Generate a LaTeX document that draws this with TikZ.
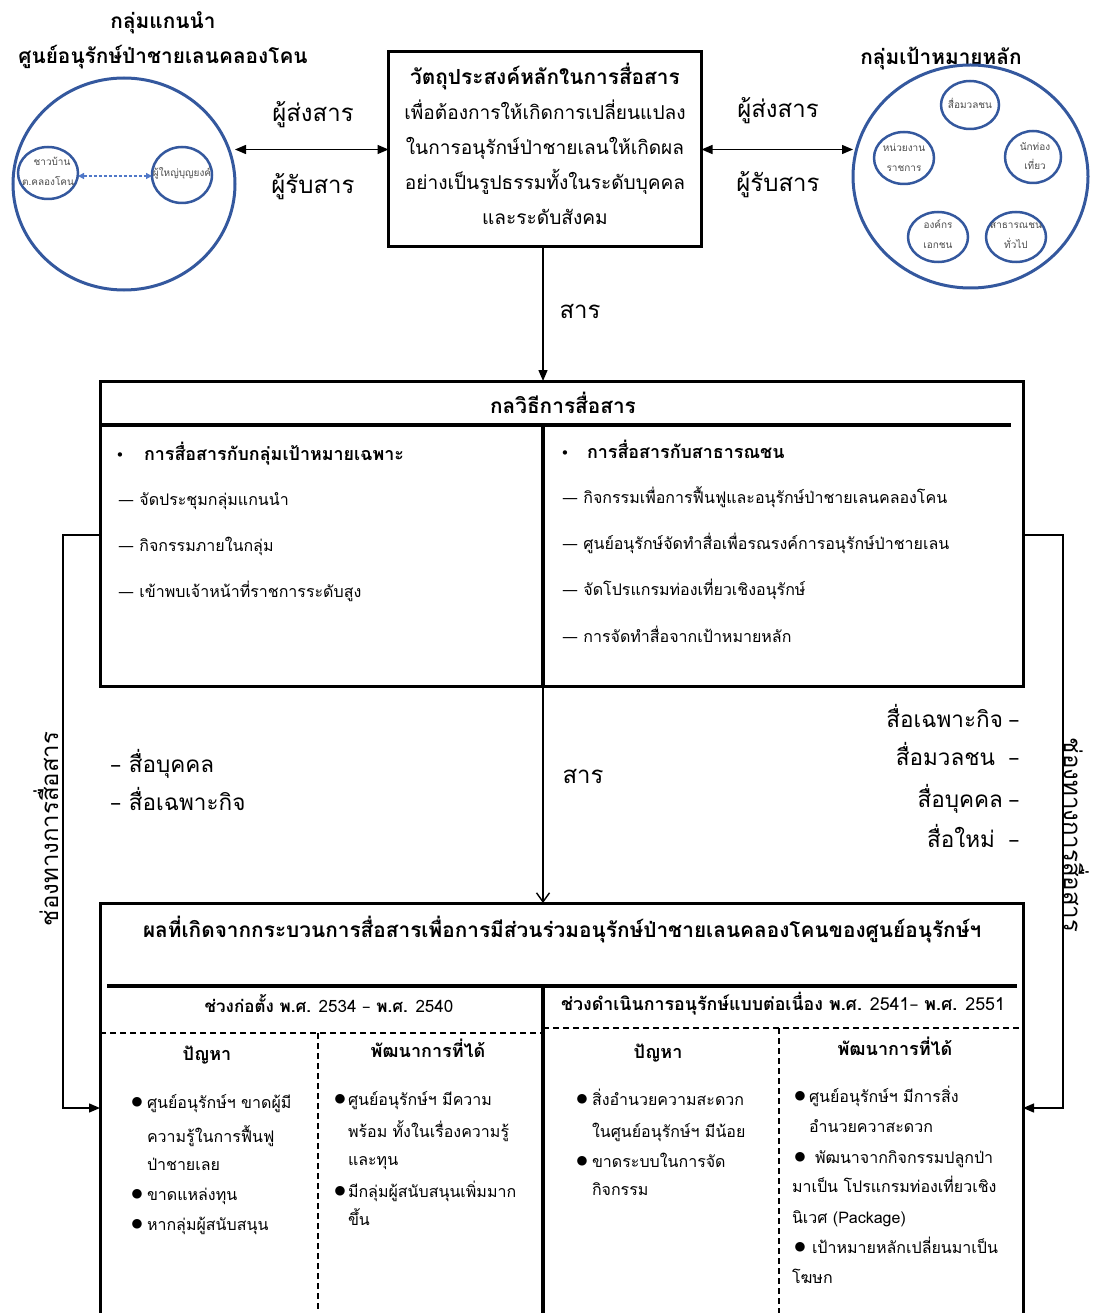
\documentclass[tikz,border=0pt]{standalone}
\usepackage{fontspec}
\setmainfont[Script=Thai]{Loma}
\newfontfamily\dv{DejaVu Sans}
\usetikzlibrary{arrows.meta,shapes.geometric}
\definecolor{circblue}{RGB}{52,88,158}
\definecolor{dotblue}{RGB}{80,120,200}
\tikzset{
  every node/.style={inner sep=0pt, outer sep=0pt},
  body/.style={font=\fontsize{16}{19}\selectfont},
  obody/.style={font=\fontsize{19.1}{22}\selectfont},
  ttl/.style={font=\fontsize{20.8}{24}\selectfont\bfseries},
  hdr/.style={font=\fontsize{18}{21}\selectfont\bfseries},
  sttl/.style={font=\fontsize{17.9}{21}\selectfont\bfseries},
  big/.style={font=\fontsize{24}{28}\selectfont},
  bigm/.style={font=\fontsize{22.5}{26}\selectfont},
  tiny/.style={font=\fontsize{10}{11}\selectfont, text=black!70},
  frame/.style={draw, line width=3pt},
  heavy/.style={line width=4pt},
  dsh/.style={line width=1.3pt, dash pattern=on 6pt off 4pt},
  conn/.style={line width=1.4pt},
  dblarr/.style={conn, {Triangle[length=11pt,width=9pt]}-{Triangle[length=11pt,width=9pt]}},
  tarr/.style={conn, -{Triangle[length=11pt,width=9pt]}},
  barb/.style={conn, -{Straight Barb[length=9pt,width=13pt]}},
  bigcirc/.style={ellipse, draw=circblue, line width=3pt},
  smallcirc/.style={ellipse, draw=circblue, line width=2.5pt},
  lb/.style={anchor=base west},
  cb/.style={anchor=base},
  rb/.style={anchor=base east},
  bul/.style={anchor=base, font=\dv\fontsize{12.5}{12}\selectfont},
  sbul/.style={anchor=base, font=\dv\fontsize{15}{15}\selectfont},
}
\begin{document}
\begin{tikzpicture}[x=1pt,y=-1pt]
\useasboundingbox (0,0) rectangle (1094,1313);
\clip (0,0) rectangle (1094,1313);

% ---------- top left group ----------
\node[ttl, cb] (lt1) at (163,29) {กลุ่มแกนนำ};
\node[ttl, cb] (lt2) at (163,64) {ศูนย์อนุรักษ์ป่าชายเลนคลองโคน};
\node[bigcirc, minimum width=222pt, minimum height=212pt] (lcirc) at (124,184) {};
\node[smallcirc, minimum width=60pt, minimum height=52pt] (lin1) at (48,173) {};
\node[smallcirc, minimum width=60pt, minimum height=56pt] (lin2) at (182,175) {};
\node[tiny, cb] (lin1a) at (52,166) {ชาวบ้าน};
\node[tiny, cb] (lin1b) at (48,186) {ต.คลองโคน};
\node[tiny, cb] (lin2a) at (182,177) {ผู้ใหญ่บุญยงค์};
\draw[draw=dotblue, line width=1.3pt, dash pattern=on 3pt off 2pt,
      {Triangle[length=6pt,width=6pt]}-{Triangle[length=6pt,width=6pt]}]
      ([yshift=-3pt]lin1.east) -- ([yshift=-3pt]lin2.west |- lin1.east);

% ---------- objective box ----------
\node[frame, minimum width=313pt, minimum height=195pt] (obj) at (545,149.5) {};
\node[ttl, cb] (o1) at (545,85) {วัตถุประสงค์หลักในการสื่อสาร};
\node[obody, cb] (o2) at (545,120) {เพื่อต้องการให้เกิดการเปลี่ยนแปลง};
\node[obody, cb] (o3) at (545,155) {ในการอนุรักษ์ป่าชายเลนให้เกิดผล};
\node[obody, cb] (o4) at (545,190) {อย่างเป็นรูปธรรมทั้งในระดับบุคคล};
\node[obody, cb] (o5) at (545,225) {และระดับสังคม};

% ---------- top right group ----------
\node[ttl, cb] (rt1) at (941,65) {กลุ่มเป้าหมายหลัก};
\node[bigcirc, minimum width=235pt, minimum height=223pt] (rcirc) at (970.5,176.5) {};
\node[smallcirc, minimum width=58pt, minimum height=48pt] (rin1) at (970,105) {};
\node[smallcirc, minimum width=56pt, minimum height=52pt] (rin2) at (1033,157) {};
\node[smallcirc, minimum width=60pt, minimum height=52pt] (rin3) at (904,158) {};
\node[smallcirc, minimum width=60pt, minimum height=50pt] (rin4) at (938,237) {};
\node[smallcirc, minimum width=60pt, minimum height=50pt] (rin5) at (1016,237) {};
\node[tiny, cb] (rin1a) at (970,109) {สื่อมวลชน};
\node[tiny, cb] (rin2a) at (1035,151) {นักท่อง};
\node[tiny, cb] (rin2b) at (1035,170) {เที่ยว};
\node[tiny, cb] (rin3a) at (904,152) {หน่วยงาน};
\node[tiny, cb] (rin3b) at (904,172) {ราชการ};
\node[tiny, cb] (rin4a) at (938,229) {องค์กร};
\node[tiny, cb] (rin4b) at (938,249) {เอกชน};
\node[tiny, cb] (rin5a) at (1016,229) {สาธารณชน};
\node[tiny, cb] (rin5b) at (1016,249) {ทั่วไป};

% ---------- sender / receiver arrows ----------
\draw[dblarr] (lcirc.east |- obj.west) -- (obj.west);
\draw[dblarr] (obj.east) -- (rcirc.west |- obj.east);
\node[big, cb] (ls) at (313,122) {ผู้ส่งสาร};
\node[big, cb] (lr) at (313,194) {ผู้รับสาร};
\node[big, cb] (rs) at (778,118) {ผู้ส่งสาร};
\node[big, cb] (rr) at (778,192) {ผู้รับสาร};

% ---------- strategy box ----------
\node[frame, minimum width=923pt, minimum height=305pt] (strat) at (561.5,533.5) {};
\coordinate (a1) at (543,246);
\draw[tarr] (obj.south -| a1) -- (strat.north -| a1);
\node[big, cb] (m1) at (580,318) {สาร};
\draw[heavy] (strat.west |- 0,425) -- (1011,425);
\draw[heavy] (543,425) -- (543,688);
\node[ttl, cb] (s0) at (563,413) {กลวิธีการสื่อสาร};
\node[sbul] (sb1) at (120,460) {•};
\node[sttl, lb] (s1) at (144,460) {การสื่อสารกับกลุ่มเป้าหมายเฉพาะ};
\node[body, lb] (s11) at (118,505) {{\dv —} จัดประชุมกลุ่มแกนนำ};
\node[body, lb] (s12) at (118,551) {{\dv —} กิจกรรมภายในกลุ่ม};
\node[body, lb] (s13) at (118,597) {{\dv —} เข้าพบเจ้าหน้าที่ราชการระดับสูง};
\node[sbul] (sb2) at (565,458) {•};
\node[sttl, lb] (s2) at (587,458) {การสื่อสารกับสาธารณชน};
\node[body, lb] (s21) at (562,503) {{\dv —} กิจกรรมเพื่อการฟื้นฟูและอนุรักษ์ป่าชายเลนคลองโคน};
\node[body, lb] (s22) at (562,549) {{\dv —} ศูนย์อนุรักษ์จัดทำสื่อเพื่อรณรงค์การอนุรักษ์ป่าชายเลน};
\node[body, lb] (s23) at (562,595) {{\dv —} จัดโปรแกรมท่องเที่ยวเชิงอนุรักษ์};
\node[body, lb] (s24) at (562,642) {{\dv —} การจัดทำสื่อจากเป้าหมายหลัก};

% ---------- results box ----------
\node[frame, minimum width=923pt, minimum height=440pt] (res) at (561.5,1123) {};
\draw[barb] (strat.south -| a1) -- (res.north -| a1);
\node[big, cb] (m2) at (583,783) {สาร};

% channels
\coordinate (lc1) at (63,535);
\coordinate (lc2) at (63,1108);
\coordinate (rc1) at (1063,535);
\coordinate (rc2) at (1063,1108);
\draw[tarr] (strat.west |- lc1) -- (lc1) -- (lc2) -- (res.west |- lc2);
\draw[tarr] (strat.east |- rc1) -- (rc1) -- (rc2) -- (res.east |- rc2);
\node[big, cb, rotate=90] (ch1) at (58,829) {ช่องทางการสื่อสาร};
\node[big, cb, rotate=-90] (ch2) at (1064,835) {ช่องทางการสื่อสาร};
\node[bigm, lb] (ml1) at (110,772) {{\dv –} สื่อบุคคล};
\node[bigm, lb] (ml2) at (110,810) {{\dv –} สื่อเฉพาะกิจ};
\node[bigm, rb] (mr1) at (1003,727) {สื่อเฉพาะกิจ};
\node[bigm, rb] (mr2) at (995,765) {สื่อมวลชน};
\node[bigm, rb] (mr3) at (1003,807) {สื่อบุคคล};
\node[bigm, rb] (mr4) at (995,847) {สื่อใหม่};
\node[bigm, cb] (mr1d) at (1014,727) {\dv –};
\node[bigm, cb] (mr2d) at (1014,765) {\dv –};
\node[bigm, cb] (mr3d) at (1014,807) {\dv –};
\node[bigm, cb] (mr4d) at (1014,847) {\dv –};

\node[ttl, lb] (r0) at (143,937) {ผลที่เกิดจากกระบวนการสื่อสารเพื่อการมีส่วนร่วมอนุรักษ์ป่าชายเลนคลองโคนของศูนย์อนุรักษ์ฯ};
\draw[heavy] (107,986) -- (1017,986);
\draw[heavy] (543,986) -- (543,1320);
\draw[dsh] (res.west |- 0,1033) -- (543,1033);
\draw[dsh] (543,1028) -- (res.east |- 0,1028);
\draw[dsh] (318,1033) -- (318,1320);
\draw[dsh] (779,1028) -- (779,1320);
\node[font=\fontsize{17}{20}\selectfont, cb] (p1) at (329,1012) {\bfseries ช่วงก่อตั้ง พ.ศ.\mdseries{} 2534 {\dv –} \bfseries พ.ศ.\mdseries{} 2540};
\node[font=\fontsize{17.8}{21}\selectfont, cb] (p2) at (783,1010) {\bfseries ช่วงดำเนินการอนุรักษ์แบบต่อเนื่อง พ.ศ.\mdseries{} 2541{\dv –} \bfseries พ.ศ.\mdseries{} 2551};
\node[hdr, cb] (h1) at (207,1060) {ปัญหา};
\node[hdr, cb] (h2) at (428,1057) {พัฒนาการที่ได้};
\node[hdr, cb] (h3) at (658,1058) {ปัญหา};
\node[hdr, cb] (h4) at (895,1055) {พัฒนาการที่ได้};

% column 1
\node[bul] (b11) at (137,1105) {●};
\node[body, lb] (c11) at (147,1108) {ศูนย์อนุรักษ์ฯ ขาดผู้มี};
\node[body, lb] (c12) at (147,1142) {ความรู้ในการฟื้นฟู};
\node[body, lb] (c13) at (147,1170) {ป่าชายเลย};
\node[bul] (b12) at (137,1197) {●};
\node[body, lb] (c14) at (147,1200) {ขาดแหล่งทุน};
\node[bul] (b13) at (137,1227) {●};
\node[body, lb] (c15) at (147,1230) {หากลุ่มผู้สนับสนุน};
% column 2
\node[bul] (b21) at (340,1102) {●};
\node[body, lb] (c21) at (348,1105) {ศูนย์อนุรักษ์ฯ มีความ};
\node[body, lb] (c22) at (348,1137) {พร้อม ทั้งในเรื่องความรู้};
\node[body, lb] (c23) at (348,1165) {และทุน};
\node[bul] (b22) at (340,1194) {●};
\node[body, lb] (c24) at (348,1197) {มีกลุ่มผู้สนับสนุนเพิ่มมาก};
\node[body, lb] (c25) at (348,1225) {ขึ้น};
% column 3
\node[bul] (b31) at (582,1102) {●};
\node[body, lb] (c31) at (592,1105) {สิ่งอำนวยความสะดวก};
\node[body, lb] (c32) at (592,1137) {ในศูนย์อนุรักษ์ฯ มีน้อย};
\node[bul] (b32) at (582,1164) {●};
\node[body, lb] (c33) at (592,1167) {ขาดระบบในการจัด};
\node[body, lb] (c34) at (592,1195) {กิจกรรม};
% column 4
\node[bul] (b41) at (800,1099) {●};
\node[body, lb] (c41) at (809,1102) {ศูนย์อนุรักษ์ฯ มีการสิ่ง};
\node[body, lb] (c42) at (809,1132) {อำนวยควาสะดวก};
\node[bul] (b42) at (800,1160) {●};
\node[body, lb] (c43) at (815,1163) {พัฒนาจากกิจกรรมปลูกป่า};
\node[body, lb] (c44) at (792,1192) {มาเป็น โปรแกรมท่องเที่ยวเชิง};
\node[body, lb] (c45) at (792,1223) {นิเวศ (Package)};
\node[bul] (b43) at (800,1250) {●};
\node[body, lb] (c46) at (812,1253) {เป้าหมายหลักเปลี่ยนมาเป็น};
\node[body, lb] (c47) at (792,1283) {โฆษก};
\end{tikzpicture}
\end{document}
